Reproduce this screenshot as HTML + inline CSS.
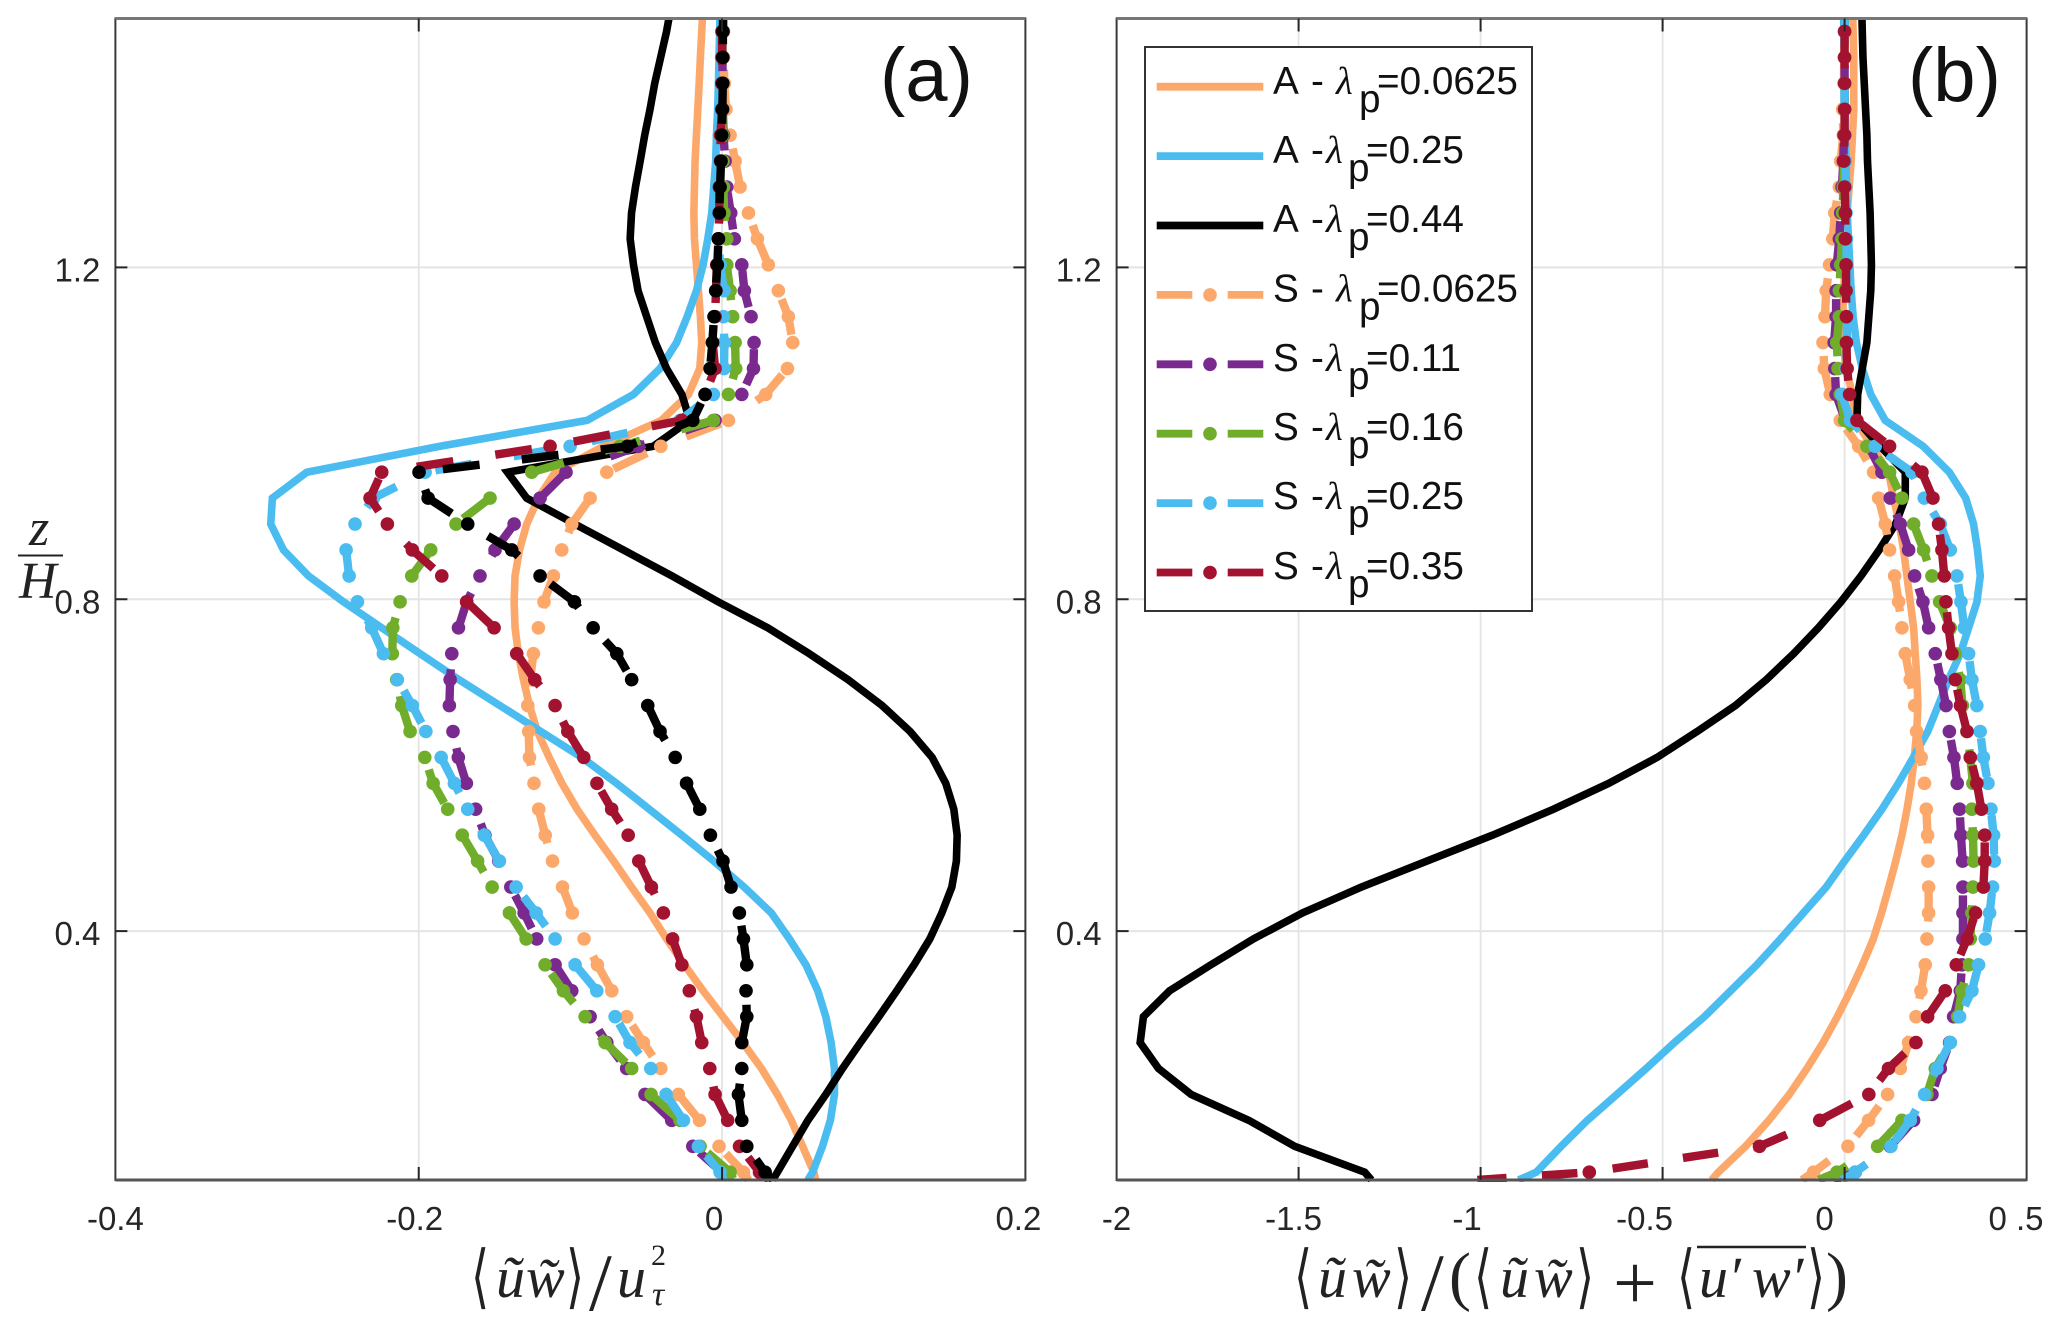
<!DOCTYPE html>
<html lang="en">
<head>
<meta charset="utf-8">
<title>Dispersive stress profiles</title>
<style>
html,body{margin:0;padding:0;background:#fff;width:2067px;height:1331px;overflow:hidden}
svg{position:absolute;left:0;top:0;display:block}
.tick{font-family:"Liberation Sans",sans-serif;font-size:33px;fill:#262626}
.panel{font-family:"Liberation Sans",sans-serif;font-size:76px;fill:#111}
.leg{font-family:"Liberation Sans",sans-serif;font-size:38.7px;fill:#111}
.lam{font-family:"Liberation Serif",serif;font-style:italic}
.m{font-family:"Liberation Serif",serif;font-style:italic;font-size:58px;fill:#222}
.mr{font-family:"Liberation Serif",serif;font-size:52px;fill:#222}
.br{font-family:"DejaVu Sans",sans-serif;font-size:58px;fill:#222;text-anchor:middle}
</style>
</head>
<body>
<svg id="chart" xmlns="http://www.w3.org/2000/svg" width="2067" height="1331" viewBox="0 0 2067 1331">
  <rect width="2067" height="1331" fill="#fff"/>
  <g id="plots"></g>

  <text class="panel" x="880" y="101">(a)</text>
  <text class="panel" x="1908" y="101">(b)</text>

  <g>
    <text class="m" x="29" y="545" style="font-size:52px">z</text>
    <line x1="18" y1="555.5" x2="63" y2="555.5" stroke="#222" stroke-width="2"/>
    <text class="m" x="19" y="598" style="font-size:52px">H</text>
  </g>

  <g>
    <text class="br" transform="translate(480,1300) scale(.8,1.2)">⟨</text>
    <text class="m" x="496" y="1297">ũ</text>
    <text class="m" x="526" y="1297">w̃</text>
    <text class="br" transform="translate(575,1300) scale(.8,1.2)">⟩</text>
    <text class="mr" x="589" y="1310" style="font-size:82px">/</text>
    <text class="m" x="617" y="1297">u</text>
    <text class="mr" x="651" y="1265" style="font-size:30px">2</text>
    <text class="m" x="652" y="1305" style="font-size:34px">τ</text>
  </g>

  <g>
    <text class="br" transform="translate(1303,1300) scale(.8,1.2)">⟨</text>
    <text class="m" x="1318" y="1297">ũ</text>
    <text class="m" x="1352" y="1297">w̃</text>
    <text class="br" transform="translate(1403,1300) scale(.8,1.2)">⟩</text>
    <text class="mr" x="1421" y="1310" style="font-size:82px">/</text>
    <text class="mr" x="1449" y="1298" style="font-size:66px">(</text>
    <text class="br" transform="translate(1483,1300) scale(.8,1.2)">⟨</text>
    <text class="m" x="1500" y="1297">ũ</text>
    <text class="m" x="1534" y="1297">w̃</text>
    <text class="br" transform="translate(1585,1300) scale(.8,1.2)">⟩</text>
    <text class="mr" x="1613" y="1309" style="font-size:78px">+</text>
    <text class="br" transform="translate(1686,1300) scale(.8,1.2)">⟨</text>
    <line x1="1697" y1="1247" x2="1806" y2="1247" stroke="#222" stroke-width="2.5"/>
    <text class="m" x="1699" y="1297">u′</text>
    <text class="m" x="1752" y="1297">w′</text>
    <text class="br" transform="translate(1816,1300) scale(.8,1.2)">⟩</text>
    <text class="mr" x="1826" y="1298" style="font-size:66px">)</text>
  </g>

  <g id="legend">
    <rect x="1145" y="47" width="387" height="564" fill="#fff" stroke="#333" stroke-width="2"/>
    <g id="legend-samples"></g>
    <text class="leg" y="94"><tspan x="1273">A</tspan><tspan x="1311">-</tspan><tspan x="1336" class="lam">λ</tspan><tspan x="1359" dy="18">p</tspan><tspan x="1377" dy="-18">=0.0625</tspan></text>
    <text class="leg" y="163"><tspan x="1273">A</tspan><tspan x="1311">-</tspan><tspan x="1326" class="lam">λ</tspan><tspan x="1348" dy="18">p</tspan><tspan x="1366" dy="-18">=0.25</tspan></text>
    <text class="leg" y="232"><tspan x="1273">A</tspan><tspan x="1311">-</tspan><tspan x="1326" class="lam">λ</tspan><tspan x="1348" dy="18">p</tspan><tspan x="1366" dy="-18">=0.44</tspan></text>
    <text class="leg" y="301.5"><tspan x="1273">S</tspan><tspan x="1311">-</tspan><tspan x="1336" class="lam">λ</tspan><tspan x="1359" dy="18">p</tspan><tspan x="1377" dy="-18">=0.0625</tspan></text>
    <text class="leg" y="371"><tspan x="1273">S</tspan><tspan x="1311">-</tspan><tspan x="1326" class="lam">λ</tspan><tspan x="1348" dy="18">p</tspan><tspan x="1366" dy="-18">=0.11</tspan></text>
    <text class="leg" y="440"><tspan x="1273">S</tspan><tspan x="1311">-</tspan><tspan x="1326" class="lam">λ</tspan><tspan x="1348" dy="18">p</tspan><tspan x="1366" dy="-18">=0.16</tspan></text>
    <text class="leg" y="509"><tspan x="1273">S</tspan><tspan x="1311">-</tspan><tspan x="1326" class="lam">λ</tspan><tspan x="1348" dy="18">p</tspan><tspan x="1366" dy="-18">=0.25</tspan></text>
    <text class="leg" y="579"><tspan x="1273">S</tspan><tspan x="1311">-</tspan><tspan x="1326" class="lam">λ</tspan><tspan x="1348" dy="18">p</tspan><tspan x="1366" dy="-18">=0.35</tspan></text>
  </g>
</svg>

<script>
// Shared wall-normal levels z/H, bottom to top
const zLevels = [0.1,0.1094,0.1406,0.1719,0.2031,0.2344,0.2656,0.2969,0.3281,0.3594,0.3906,0.4219,0.4531,0.4844,0.5156,0.5469,0.5781,0.6094,0.6406,0.6719,0.7031,0.7344,0.7656,0.7969,0.8281,0.8594,0.8906,0.9219,0.9531,0.9844,1.0156,1.0469,1.0781,1.1094,1.1406,1.1719,1.2031,1.2344,1.2656,1.2969,1.3281,1.3594,1.3906,1.4219,1.4531,1.4844,1.5156];

// Panel (a) values: <uw>/u_tau^2
const aArrayOrange = [.0618,.0605,.0531,.0457,.0365,.026,.0137,.0006,-.0125,-.0248,-.0366,-.0475,-.0597,-.0715,-.0838,-.0956,-.1056,-.114,-.1218,-.127,-.131,-.1343,-.1365,-.1371,-.1365,-.1336,-.1288,-.1211,-.1101,-.0782,-.04,-.0221,-.0147,-.0134,-.0143,-.0156,-.0169,-.0182,-.0186,-.0182,-.0178,-.0169,-.016,-.0151,-.0143,-.0134,-.0125];
const aArrayBlue = [.0566,.0597,.0662,.0714,.0741,.0741,.0719,.0684,.0631,.0553,.0444,.0325,.0145,-.0055,-.0265,-.048,-.0695,-.0925,-.1195,-.1465,-.1735,-.1991,-.2244,-.2497,-.2727,-.2892,-.2976,-.2965,-.2738,-.186,-.089,-.0584,-.0409,-.03,-.023,-.0169,-.0125,-.0094,-.0068,-.0055,-.0042,-.0037,-.0029,-.0024,-.002,-.0016,-.0012];
const aArrayBlack = [.0334,.0365,.0465,.0566,.0684,.0794,.0912,.1034,.1152,.1266,.137,.1449,.1515,.1545,.155,.1528,.1475,.1385,.124,.1055,.083,.0575,.0301,-.0026,-.033,-.065,-.0971,-.1288,-.1415,-.0453,-.0213,-.0265,-.0366,-.044,-.0497,-.0554,-.0584,-.0606,-.0597,-.0571,-.054,-.051,-.0475,-.0444,-.0405,-.0366,-.0335];
const aStagOrange = [.0174,.0141,-.002,-.0149,-.0288,-.0404,-.0519,-.0629,-.0727,-.0822,-.091,-.0987,-.1052,-.1118,-.1166,-.1209,-.124,-.127,-.1275,-.1281,-.1266,-.1244,-.1211,-.1174,-.1112,-.1057,-.0991,-.087,-.076,-.0404,.0042,.0288,.0431,.0466,.0437,.0371,.0305,.0233,.0174,.0119,.0086,.0053,.0026,.0015,.001,.001,.001];
const aStagPurple = [.002,-.0002,-.0193,-.0332,-.0508,-.0629,-.076,-.087,-.0991,-.1101,-.1222,-.1305,-.1393,-.1472,-.1564,-.1625,-.1686,-.1739,-.1774,-.1798,-.1793,-.1782,-.1738,-.1684,-.1596,-.1497,-.1371,-.12,-.1029,-.0552,-.0046,.013,.0207,.0211,.0191,.0147,.013,.0081,.0057,.0031,.002,.001,.0005,.0003,.0003,.0003,.0003];
const aStagGreen = [.0075,.0053,-.0145,-.0277,-.0468,-.0596,-.0771,-.0903,-.1046,-.1167,-.1292,-.1402,-.1516,-.1612,-.1713,-.1809,-.1905,-.196,-.2057,-.2112,-.2145,-.2174,-.2171,-.2123,-.2046,-.1921,-.1754,-.153,-.1255,-.0673,-.0057,.0042,.009,.0086,.007,.0053,.0031,.0031,.0013,.0009,.0006,.0004,.0003,.0002,.0002,.0002,.0002];
const aStagBlue = [.001,-.0013,-.0156,-.0255,-.0369,-.047,-.0607,-.0705,-.0826,-.0969,-.1101,-.1226,-.1358,-.1468,-.1568,-.1677,-.1765,-.1852,-.1953,-.2042,-.2141,-.2233,-.231,-.2404,-.2459,-.2479,-.242,-.2299,-.1958,-.1002,-.0277,-.0057,.0013,.0015,.0009,.0013,-.0013,-.0024,-.0031,-.0031,-.0018,-.0018,-.0009,-.0005,-.0003,-.0002,0];
const aStagRed = [.031,.0247,.0115,.0037,-.0046,-.0081,-.0134,-.0169,-.0216,-.0265,-.0326,-.0387,-.0466,-.0549,-.0619,-.0728,-.0825,-.0912,-.1017,-.1101,-.1235,-.1354,-.1503,-.1684,-.1848,-.2042,-.2207,-.2321,-.2244,-.1134,-.0266,-.0112,-.0046,-.0062,-.0046,-.004,-.0035,-.0024,-.0018,-.0018,-.001,-.001,-.0002,-.0002,0,0,0];
const aStagBlack = [.0335,.0284,.0163,.013,.0108,.013,.013,.0163,.0158,.0163,.0141,.0114,.0059,.0006,-.0077,-.0147,-.0234,-.0309,-.0409,-.049,-.0596,-.0694,-.085,-.0974,-.12,-.1387,-.1677,-.1938,-.1998,-.0624,-.0193,-.0112,-.0079,-.0064,-.0053,-.0042,-.0031,-.0024,-.0018,-.0013,-.0007,-.0002,.0002,.0005,.0005,.0006,.0006];

// Panel (b) values: <uw>/(<uw>+<u'w'>)
const bArrayOrange = [-.3651,-.3471,-.272,-.208,-.152,-.1035,-.059,-.02,.016,.049,.079,.1015,.1215,.1405,.1575,.1715,.183,.1915,.198,.2014,.1987,.1941,.1896,.1804,.1712,.1621,.1502,.1346,.1209,.0751,.0293,.0216,.0036,-.0036,-.0054,-.0018,0,.0036,.0072,.0126,.018,.0216,.0252,.0252,.0252,.0234,.0216];
const bArrayBlue = [-.8957,-.8471,-.7788,-.7068,-.6259,-.545,-.4676,-.3849,-.3129,-.241,-.176,-.1133,-.0504,0,.0522,.1025,.1475,.1888,.2284,.2572,.2857,.3178,.3407,.3636,.3727,.3651,.3543,.3327,.2878,.2158,.1115,.0719,.0486,.0324,.0234,.018,.0144,.0108,.0072,.0054,.0036,.0018,0,-.0018,-.0018,-.0018,-.0036];
const bArrayBlack = [-1.3,-1.3183,-1.5108,-1.6367,-1.795,-1.885,-1.9353,-1.9263,-1.8543,-1.741,-1.6241,-1.4892,-1.3273,-1.1475,-.9676,-.8,-.648,-.515,-.405,-.3,-.215,-.14,-.072,-.01,.045,.095,.14,.1667,.1667,.098,.0339,.036,.0486,.0612,.0665,.0719,.0737,.0719,.0701,.0665,.0629,.0612,.0576,.054,.0504,.0486,.0468];
const bStagOrange = [-.117,-.0852,.0092,.0659,.1181,.1529,.1758,.196,.2097,.2216,.2262,.2308,.2308,.2289,.228,.2244,.2194,.2104,.1978,.1924,.1804,.1667,.1575,.1484,.1374,.1236,.1117,.0934,.0797,.0385,-.0119,-.0394,-.0558,-.0594,-.054,-.0504,-.0414,-.0324,-.027,-.0144,-.0108,-.0036,-.0054,-.002,-.001,0,0];
const bStagPurple = [-.03,.0293,.1255,.1896,.24,.2628,.2885,.2995,.3178,.3223,.3251,.3251,.3251,.3242,.3196,.316,.3094,.3004,.2878,.2788,.2644,.2491,.2308,.2152,.1923,.1758,.1529,.1255,.1026,.0659,.0018,-.0234,-.027,-.0288,-.0234,-.0234,-.0216,-.0144,-.0108,-.0072,-.0036,-.0018,0,0,0,0,0];
const bStagGreen = [-.0714,-.0211,.0907,.1575,.2262,.2491,.2903,.3104,.3223,.3407,.3452,.3498,.3526,.3544,.3526,.3498,.3525,.3453,.3363,.3237,.3178,.304,.2903,.261,.2399,.217,.1896,.1575,.1236,.0614,0,-.0119,-.018,-.0216,-.0144,-.0144,-.0108,-.0072,-.0054,-.0036,-.0018,0,0,0,0,0,0];
const bStagBlue = [-.007,.0293,.1273,.1804,.2198,.2537,.2903,.3159,.3498,.3681,.3864,.3984,.4066,.4112,.4093,.402,.3939,.3813,.3723,.3633,.3498,.3407,.3288,.3196,.3086,.2903,.2628,.2189,.185,.0842,.0156,-.0073,.004,.006,.007,.007,.006,.005,.004,.003,.002,.001,0,0,0,0,0];
const bStagRed = [-1.009,-.7014,-.2338,-.0683,.0665,.1205,.196,.228,.2766,.3068,.3363,.3597,.3813,.3849,.3849,.3759,.3633,.3453,.3363,.3183,.304,.2949,.2857,.2784,.2738,.2674,.2582,.2427,.2125,.1236,.0339,.0137,.007,.005,.005,.004,.004,.002,.002,0,-.002,0,0,0,0,0,0];

// Tick labels and tick values
const xTicksA = [-0.4,-0.2,0,0.2];
const xTickLabelsA = ["-0.4","-0.2","0","0.2"];
const xTicksB = [-2,-1.5,-1,-0.5,0,0.5];
const xTickLabelsB = ["-2","-1.5","-1","-0.5","0","0 .5"];
const yTicks = [0.4,0.8,1.2];
const yTickLabels = ["0.4","0.8","1.2"];

// Legend entries
const legendKeys = ["A-0.0625","A-0.25","A-0.44","S-0.0625","S-0.11","S-0.16","S-0.25","S-0.35"];

const SVGNS = "http://www.w3.org/2000/svg";
const COLORS = {orange:"#FDA86B",blue:"#4ABCEF",black:"#000000",purple:"#7A2A8E",green:"#6FAD2B",red:"#A3122E"};
const LEVEL0 = 2; // index offset of first z level on the uniform grid

function mk(tag, attrs, parent){
  const e = document.createElementNS(SVGNS, tag);
  for (const k in attrs) e.setAttribute(k, attrs[k]);
  parent.appendChild(e);
  return e;
}

function linear(d0, d1, r0, r1){
  return v => r0 + (v - d0) * (r1 - r0) / (d1 - d0);
}

// Dash pattern is walked along the line in a metric where vertical distance is
// divided by yf, so dashes run longer on steep stretches than on shallow ones.
function cumulative(pts, yf){
  const c = [0];
  for (let i = 1; i < pts.length; i++){
    c.push(c[i-1] + Math.hypot(pts[i][0]-pts[i-1][0], (pts[i][1]-pts[i-1][1]) / yf));
  }
  return c;
}

function pointAt(pts, c, s){
  for (let i = 1; i < pts.length; i++){
    if (s <= c[i]){
      const f = (s - c[i-1]) / ((c[i] - c[i-1]) || 1);
      return [pts[i-1][0] + f*(pts[i][0]-pts[i-1][0]), pts[i-1][1] + f*(pts[i][1]-pts[i-1][1])];
    }
  }
  return pts[pts.length-1];
}

function dashRuns(pts, anchorIdx, on, period, yf){
  const c = cumulative(pts, yf);
  const total = c[c.length-1];
  const n = Math.floor(anchorIdx);
  const start = c[n] + (anchorIdx - n) * ((c[n+1] - c[n]) || 0);
  const runs = [];
  let s0 = start - Math.ceil((start + on) / period) * period;
  for (; s0 < total; s0 += period){
    const a = Math.max(0, s0), b = Math.min(total, s0 + on);
    if (b <= a) continue;
    const run = [pointAt(pts, c, a)];
    for (let i = 0; i < pts.length; i++){
      if (c[i] > a && c[i] < b) run.push(pts[i]);
    }
    run.push(pointAt(pts, c, b));
    runs.push(run);
  }
  return runs;
}

const Y_RANGE = [1180, 18.5];
const yScale = linear(0.1, 1.5, Y_RANGE[0], Y_RANGE[1]);
const plotsRoot = document.getElementById("plots");

function ptsAttr(pts){
  return pts.map(p => p[0].toFixed(2)+","+p[1].toFixed(2)).join(" ");
}

function drawPanel(cfg){
  const x = linear(cfg.domain[0], cfg.domain[1], cfg.range[0], cfg.range[1]);
  const left = cfg.range[0], right = cfg.range[1], top = Y_RANGE[1], bottom = Y_RANGE[0];
  const g = mk("g", {}, plotsRoot);
  
  

  const clip = mk("clipPath", {id: cfg.id + "-clip"}, g);
  mk("rect", {x: left, y: top - 1, width: right - left, height: bottom - top + 3}, clip);

  // grid
  cfg.xTicks.forEach(t => {
    if (t === cfg.domain[0] || t === cfg.domain[1]) return;
    const gl = mk("line", {x1:x(t), x2:x(t), y1:top, y2:bottom, stroke:"#e4e4e4", "stroke-width":1.8}, g);
    
    
  });
  yTicks.forEach(t => {
    const gl = mk("line", {x1:left, x2:right, y1:yScale(t), y2:yScale(t), stroke:"#e4e4e4", "stroke-width":2}, g);
    
    
  });

  // series
  cfg.series.forEach(s => {
    const sg = mk("g", {"clip-path": "url(#" + cfg.id + "-clip)"}, g);
    
    
    const pts = s.values.map((v,i) => [x(v), yScale(zLevels[i])]);
    if (!s.marked){
      const ln = mk("polyline", {points:ptsAttr(pts), fill:"none", stroke:COLORS[s.color], "stroke-width":7.6}, sg);
      
      
    } else {
      dashRuns(pts, s.anchor - LEVEL0, cfg.dashOn, cfg.dashPeriod, cfg.dashYf).forEach(run => {
        const d = mk("polyline", {points:ptsAttr(run), fill:"none", stroke:COLORS[s.color], "stroke-width":8.4}, sg);
        
        
      });
      pts.forEach(p => {
        if (p[1] >= bottom || p[1] < top) return;
        const c = mk("circle", {cx:p[0], cy:p[1], r:6.8, fill:COLORS[s.color]}, sg);
        
        
      });
    }
  });

  // frame
  const frame = mk("rect", {x:left, y:top, width:right-left, height:bottom-top, fill:"none", stroke:"#3a3a3a", "stroke-width":2}, g);
  
  
  mk("line", {x1:left, x2:right, y1:top, y2:top, stroke:"#777", "stroke-width":3}, g);
  mk("line", {x1:left, x2:right, y1:bottom, y2:bottom, stroke:"#555", "stroke-width":3}, g);

  // ticks and labels
  cfg.xTicks.forEach((t,i) => {
    const px = x(t);
    if (i > 0 && i < cfg.xTicks.length - 1){
      const a = mk("line", {x1:px, x2:px, y1:bottom, y2:bottom-13, stroke:"#262626", "stroke-width":2}, g);
      
      
      const b = mk("line", {x1:px, x2:px, y1:top, y2:top+13, stroke:"#262626", "stroke-width":2}, g);
      
      
    }
    const lb = mk("text", {x:px + cfg.labelNudge[i], y:1230, "text-anchor":"middle", "class":"tick"}, g);
    lb.setAttribute("xml:space", "preserve");
    lb.style.whiteSpace = "pre";
    lb.textContent = cfg.xLabels[i];
    
    
  });
  yTicks.forEach((t,i) => {
    const py = yScale(t);
    const a = mk("line", {x1:left, x2:left+12, y1:py, y2:py, stroke:"#262626", "stroke-width":2}, g);
    
    
    const b = mk("line", {x1:right, x2:right-12, y1:py, y2:py, stroke:"#262626", "stroke-width":2}, g);
    
    
    const lb = mk("text", {x:left-15, y:py+14, "text-anchor":"end", "class":"tick"}, g);
    lb.textContent = yTickLabels[i];
    
    
  });
}

drawPanel({
  id:"panel-a", domain:[-0.4,0.2], range:[115.4,1025.4],
  xTicks:xTicksA, xLabels:xTickLabelsA, labelNudge:[0,-4,-8,-7],
  dashOn:37, dashPeriod:79.5, dashYf:1,
  series:[
    {name:"a-lp-0.0625", values:aArrayOrange, color:"orange"},
    {name:"a-lp-0.25", values:aArrayBlue, color:"blue"},
    {name:"a-lp-0.44", values:aArrayBlack, color:"black"},
    {name:"s-lp-0.0625", values:aStagOrange, color:"orange", marked:true, anchor:5},
    {name:"s-lp-0.11", values:aStagPurple, color:"purple", marked:true, anchor:5},
    {name:"s-lp-0.16", values:aStagGreen, color:"green", marked:true, anchor:5},
    {name:"s-lp-0.25", values:aStagBlue, color:"blue", marked:true, anchor:5},
    {name:"s-lp-0.35", values:aStagRed, color:"red", marked:true, anchor:5},
    {name:"s-lp-0.44", values:aStagBlack, color:"black", marked:true, anchor:5}
  ]
});

drawPanel({
  id:"panel-b", domain:[-2,0.5], range:[1116.6,2026.6],
  xTicks:xTicksB, xLabels:xTickLabelsB, labelNudge:[0,-5,-13.6,-18,-20,-10.6],
  dashOn:35.6, dashPeriod:71, dashYf:1.1,
  series:[
    {name:"a-lp-0.0625", values:bArrayOrange, color:"orange"},
    {name:"a-lp-0.25", values:bArrayBlue, color:"blue"},
    {name:"a-lp-0.44", values:bArrayBlack, color:"black"},
    {name:"s-lp-0.0625", values:bStagOrange, color:"orange", marked:true, anchor:4.4},
    {name:"s-lp-0.11", values:bStagPurple, color:"purple", marked:true, anchor:4},
    {name:"s-lp-0.16", values:bStagGreen, color:"green", marked:true, anchor:4},
    {name:"s-lp-0.25", values:bStagBlue, color:"blue", marked:true, anchor:4.2},
    {name:"s-lp-0.35", values:bStagRed, color:"red", marked:true, anchor:5}
  ]
});

// legend samples
const legendColors = ["orange","blue","black","orange","purple","green","blue","red"];
const legendRoot = document.getElementById("legend-samples");
legendKeys.forEach((key,i) => {
  const yy = 86.7 + i * 69.4;
  const col = COLORS[legendColors[i]];
  const solid = key.charAt(0) === "A";
  const sg = mk("g", {}, legendRoot);
  
  
  const ln = mk("line", {x1:1156.7, x2:1263.3, y1:yy, y2:yy, stroke:col, "stroke-width":7.8}, sg);
  
  
  if (!solid){
    ln.setAttribute("stroke-dasharray", "35.6 35.4");
    const c = mk("circle", {cx:1210, cy:yy, r:6.8, fill:col}, sg);
    
    
  }
});
</script>
</body>
</html>
